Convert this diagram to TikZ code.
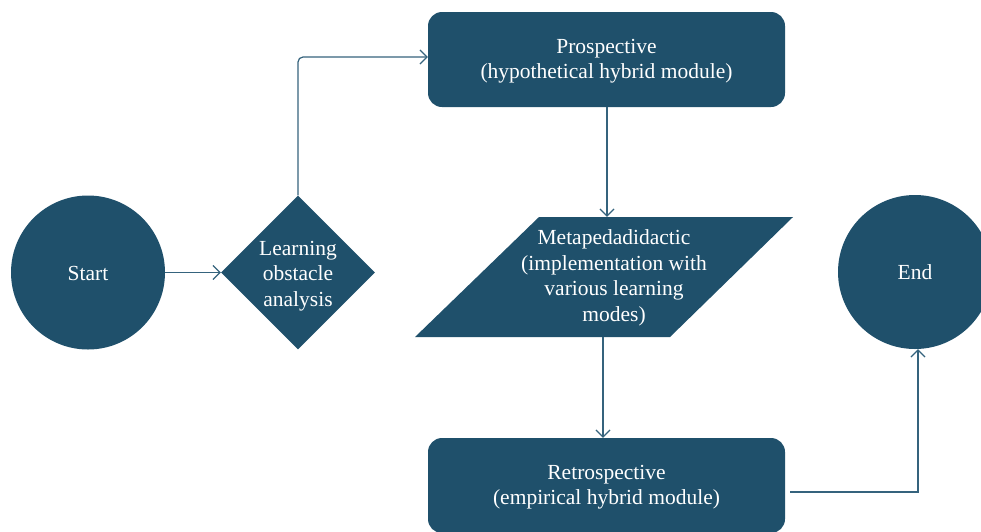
\documentclass[tikz,border=0pt]{standalone}
\usepackage{fontspec}
\setmainfont{Liberation Serif}
\usetikzlibrary{shapes.geometric,arrows.meta}
\definecolor{box}{HTML}{1F506B}
\definecolor{wire}{HTML}{35637D}
\begin{document}
\begin{tikzpicture}[x=1pt,y=-1pt,
  every node/.style={text=white,font=\fontsize{21.5}{25.5}\selectfont,align=center,inner sep=0pt},
  blob/.style={circle,fill=box,minimum size=154pt},
  dia/.style={diamond,fill=box,minimum width=154pt,minimum height=154pt,aspect=1},
  rbox/.style={rectangle,rounded corners=14pt,fill=box,minimum width=357pt,minimum height=95pt},
  wirestyle/.style={draw=wire,line width=1.2pt,-{Straight Barb[length=7pt,width=14pt,line width=1.2pt]}}
]
\useasboundingbox (0,0) rectangle (981,531);
\begin{scope}
\clip (0,0) rectangle (981,531);
\node[blob] (start) at (88,272.5) {};
\node at (88,273) {Start};
\node[blob] (end) at (915,272) {};
\node at (915,272) {End};
\node[dia] (obst) at (298,272.5) {};
\node at (298,276) {Learning\\obstacle\\analysis};
\node[rbox] (pro) at (606.5,59.5) {};
\node at (606.5,61) {Prospective\\(hypothetical hybrid module)};
\node[rbox] (retro) at (606.5,485.5) {};
\node at (606.5,487) {Retrospective\\(empirical hybrid module)};
\fill[box] (539,217) -- (793,217) -- (670,337) -- (415,337) -- cycle;
\node[minimum width=254pt,minimum height=120pt] (meta) at (604,277) {};
\node at (614,278) {Metapedadidactic\\(implementation with\\various learning\\modes)};
\end{scope}
\draw[wirestyle] (start.east) -- (obst.west);
\draw[wirestyle,rounded corners=5pt] (obst.north) |- (pro.west |- 0,57);
\draw[wirestyle] (pro.south -| 607,0) -- (meta.north -| 607,0);
\draw[wirestyle] (meta.south -| 603,0) -- (retro.north -| 603,0);
\coordinate (rstart) at ([xshift=5pt]retro.east |- 0,492);
\draw[wirestyle] (rstart) -| (end.south -| 918,0);
\end{tikzpicture}
\end{document}
